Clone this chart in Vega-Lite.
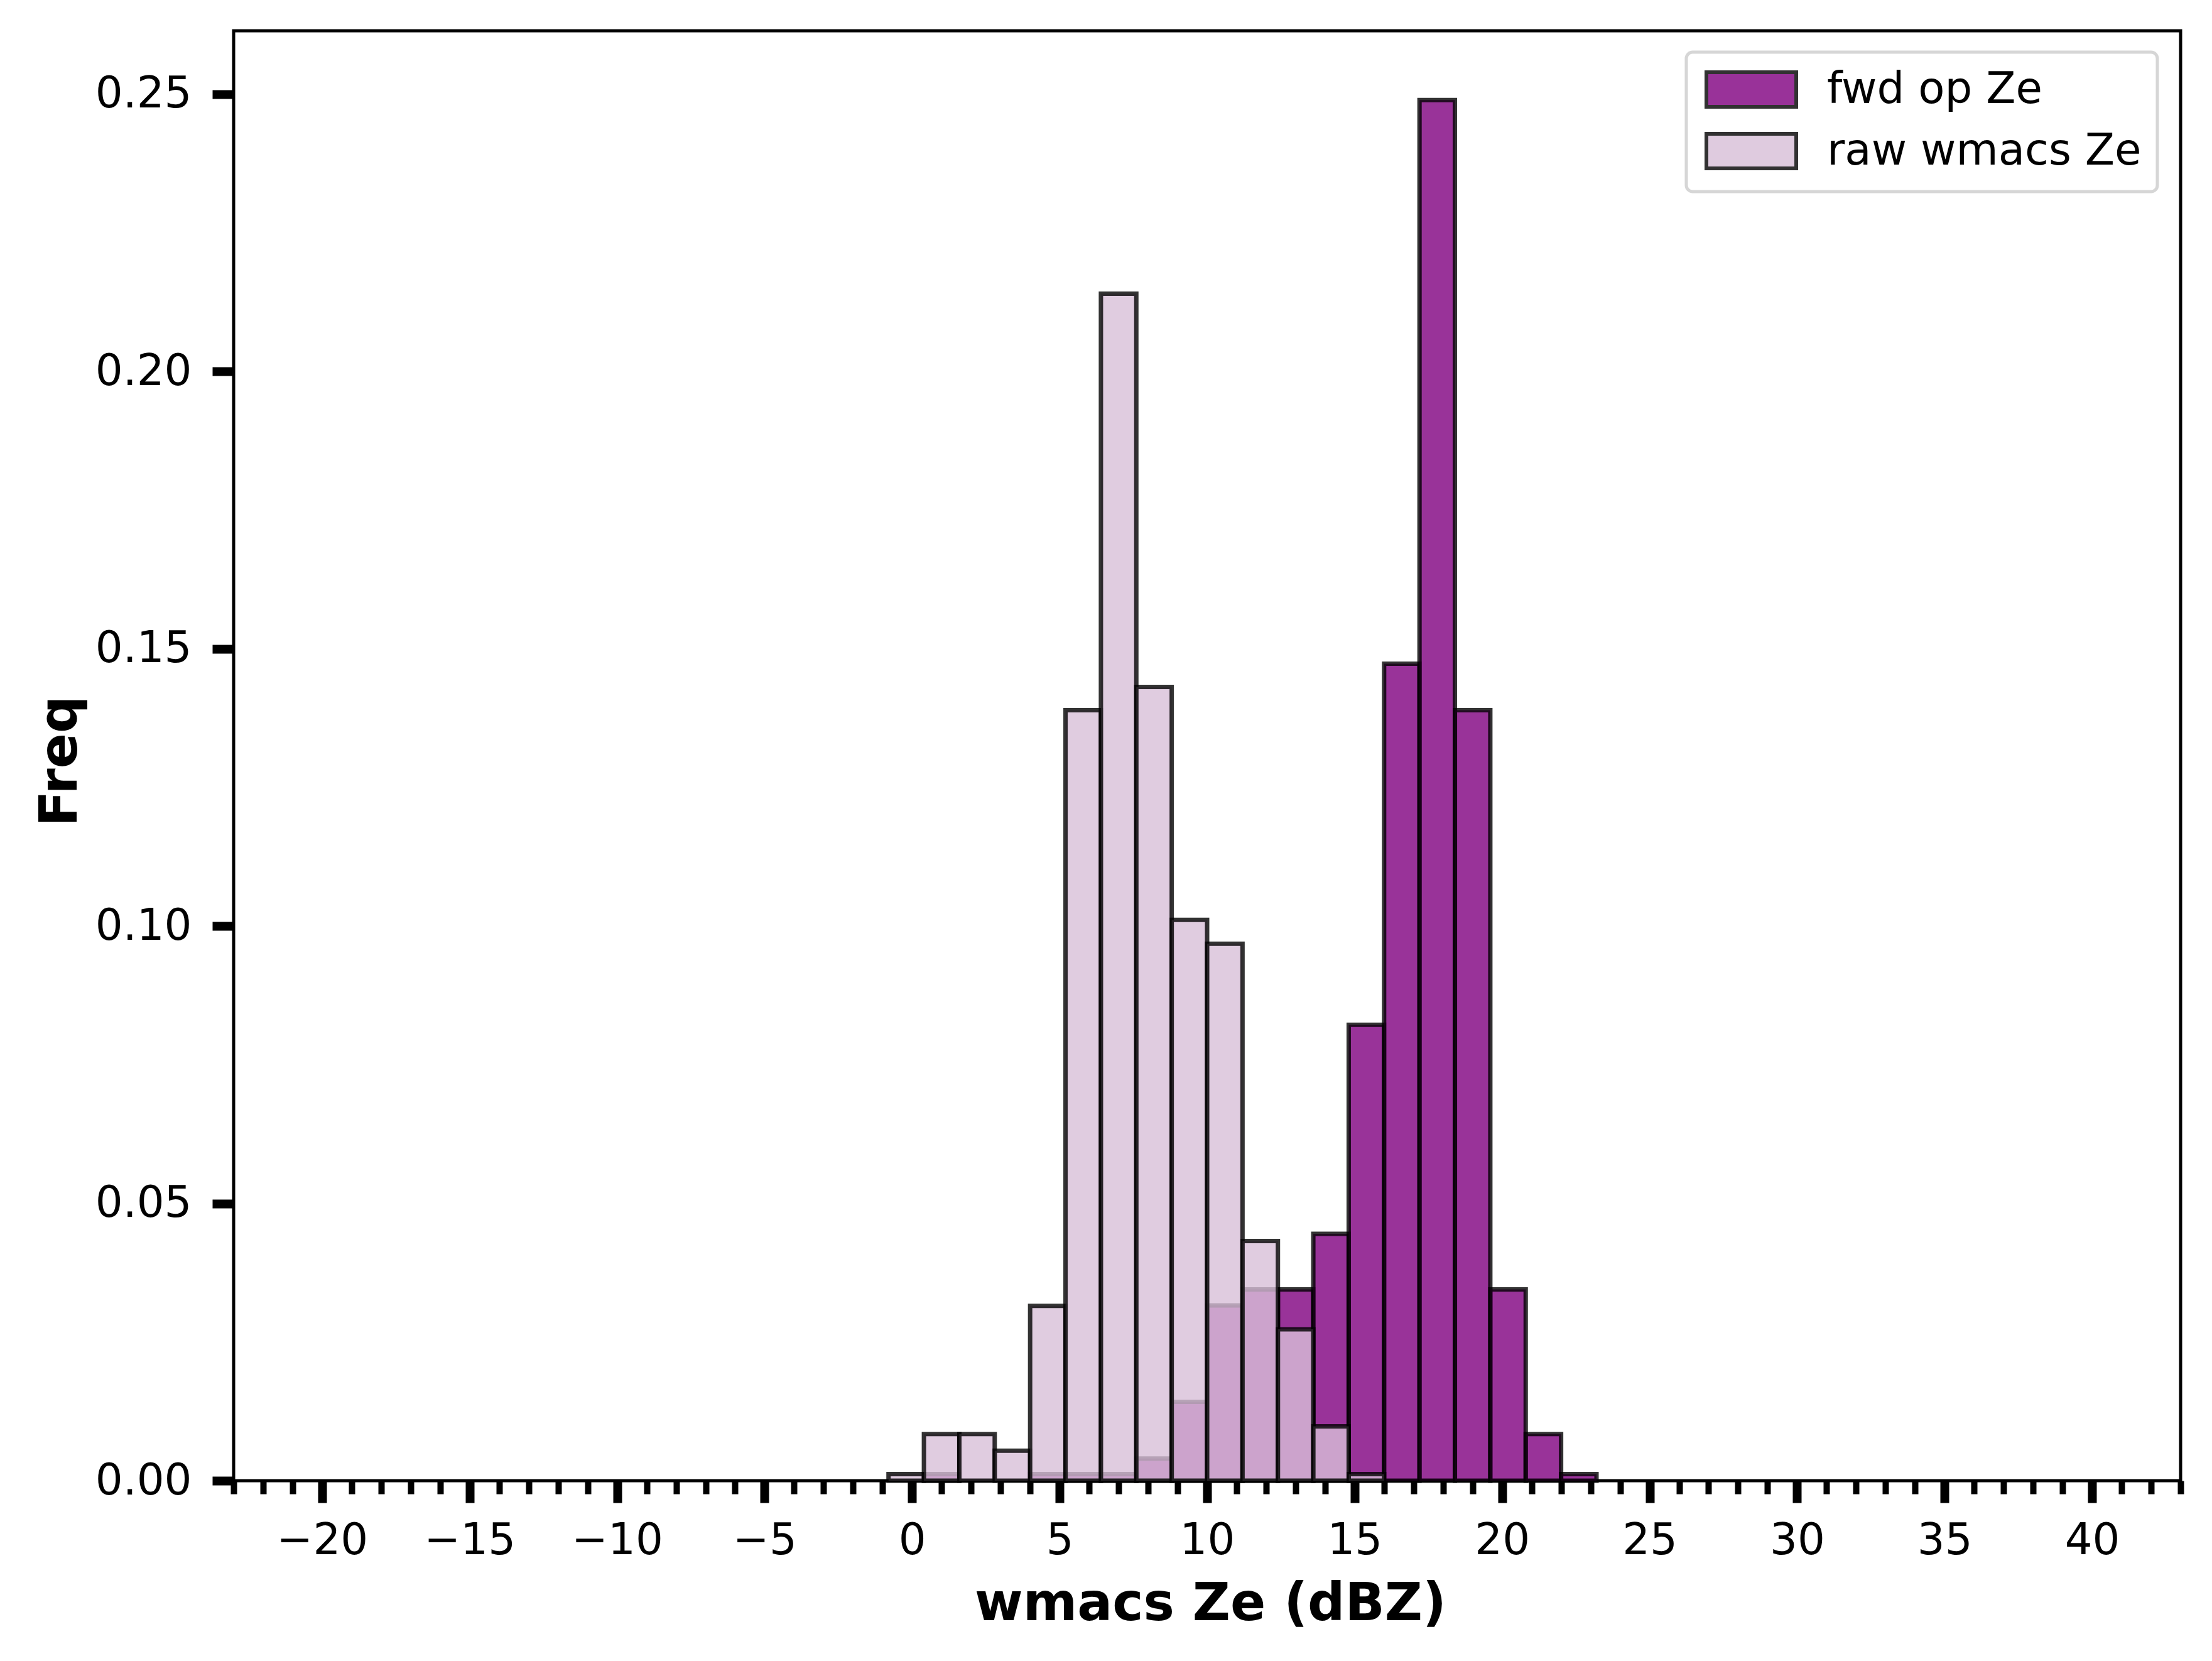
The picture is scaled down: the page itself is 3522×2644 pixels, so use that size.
{
  "$schema": "https://vega.github.io/schema/vega-lite/v6.json",
  "autosize": "none",
  "width": 3100,
  "height": 2308,
  "padding": {"left": 372, "top": 49, "right": 50, "bottom": 287},
  "background": "white",
  "config": {
    "font": "DejaVu Sans",
    "view": {"stroke": "black", "strokeWidth": 5},
    "axis": {"domain": false, "grid": false, "labelFont": "DejaVu Sans", "labelFontSize": 69, "labelColor": "black", "tickColor": "black", "titleFont": "DejaVu Sans", "titleFontSize": 83, "titleFontWeight": "bold", "titleColor": "black"},
    "legend": {"strokeWidth": 5}
  },
  "data": {
    "values": [
      {"series": "fwd op Ze", "bin_start": 0.4, "bin_end": 1.6, "freq": 0.0012},
      {"series": "fwd op Ze", "bin_start": 4.0, "bin_end": 5.2, "freq": 0.0012},
      {"series": "fwd op Ze", "bin_start": 5.2, "bin_end": 6.4, "freq": 0.0012},
      {"series": "fwd op Ze", "bin_start": 6.4, "bin_end": 7.6, "freq": 0.0012},
      {"series": "fwd op Ze", "bin_start": 7.6, "bin_end": 8.8, "freq": 0.0040},
      {"series": "fwd op Ze", "bin_start": 8.8, "bin_end": 10.0, "freq": 0.0142},
      {"series": "fwd op Ze", "bin_start": 10.0, "bin_end": 11.2, "freq": 0.0316},
      {"series": "fwd op Ze", "bin_start": 11.2, "bin_end": 12.4, "freq": 0.0345},
      {"series": "fwd op Ze", "bin_start": 12.4, "bin_end": 13.6, "freq": 0.0345},
      {"series": "fwd op Ze", "bin_start": 13.6, "bin_end": 14.8, "freq": 0.0445},
      {"series": "fwd op Ze", "bin_start": 14.8, "bin_end": 16.0, "freq": 0.0822},
      {"series": "fwd op Ze", "bin_start": 16.0, "bin_end": 17.2, "freq": 0.1473},
      {"series": "fwd op Ze", "bin_start": 17.2, "bin_end": 18.4, "freq": 0.2489},
      {"series": "fwd op Ze", "bin_start": 18.4, "bin_end": 19.6, "freq": 0.1389},
      {"series": "fwd op Ze", "bin_start": 19.6, "bin_end": 20.8, "freq": 0.0345},
      {"series": "fwd op Ze", "bin_start": 20.8, "bin_end": 22.0, "freq": 0.0084},
      {"series": "fwd op Ze", "bin_start": 22.0, "bin_end": 23.2, "freq": 0.0012},
      {"series": "raw wmacs Ze", "bin_start": -0.8, "bin_end": 0.4, "freq": 0.0012},
      {"series": "raw wmacs Ze", "bin_start": 0.4, "bin_end": 1.6, "freq": 0.0084},
      {"series": "raw wmacs Ze", "bin_start": 1.6, "bin_end": 2.8, "freq": 0.0084},
      {"series": "raw wmacs Ze", "bin_start": 2.8, "bin_end": 4.0, "freq": 0.0054},
      {"series": "raw wmacs Ze", "bin_start": 4.0, "bin_end": 5.2, "freq": 0.0315},
      {"series": "raw wmacs Ze", "bin_start": 5.2, "bin_end": 6.4, "freq": 0.1389},
      {"series": "raw wmacs Ze", "bin_start": 6.4, "bin_end": 7.6, "freq": 0.2140},
      {"series": "raw wmacs Ze", "bin_start": 7.6, "bin_end": 8.8, "freq": 0.1431},
      {"series": "raw wmacs Ze", "bin_start": 8.8, "bin_end": 10.0, "freq": 0.1011},
      {"series": "raw wmacs Ze", "bin_start": 10.0, "bin_end": 11.2, "freq": 0.0968},
      {"series": "raw wmacs Ze", "bin_start": 11.2, "bin_end": 12.4, "freq": 0.0432},
      {"series": "raw wmacs Ze", "bin_start": 12.4, "bin_end": 13.6, "freq": 0.0273},
      {"series": "raw wmacs Ze", "bin_start": 13.6, "bin_end": 14.8, "freq": 0.0098},
      {"series": "raw wmacs Ze", "bin_start": 14.8, "bin_end": 16.0, "freq": 0.0012}
    ]
  },
  "resolve": {"axis": {"x": "independent"}},
  "layer": [
    {
      "mark": {"type": "bar", "opacity": 0},
      "encoding": {
        "x": {
          "field": "bin_start", "type": "quantitative",
          "scale": {"domain": [-23, 43], "nice": false, "zero": false},
          "axis": {
            "orient": "bottom",
            "title": null,
            "labels": false,
            "values": [-23,-22,-21,-19,-18,-17,-16,-14,-13,-12,-11,-9,-8,-7,-6,-4,-3,-2,-1,1,2,3,4,6,7,8,9,11,12,13,14,16,17,18,19,21,22,23,24,26,27,28,29,31,32,33,34,36,37,38,39,41,42,43],
            "tickSize": 21,
            "tickWidth": 10
          }
        },
        "x2": {"field": "bin_end"},
        "y": {"field": "freq", "type": "quantitative", "stack": null, "scale": {"domain": [0, 0.2614], "nice": false}},
        "y2": {"datum": 0}
      }
    },
    {
      "mark": {"type": "bar", "stroke": "black", "strokeWidth": 7, "strokeOpacity": 0.8, "fillOpacity": 0.8},
      "encoding": {
        "x": {
          "field": "bin_start", "type": "quantitative",
          "scale": {"domain": [-23, 43], "nice": false, "zero": false},
          "axis": {
            "orient": "bottom",
            "title": "wmacs Ze (dBZ)",
            "values": [-20,-15,-10,-5,0,5,10,15,20,25,30,35,40],
            "format": "d",
            "tickSize": 35,
            "tickWidth": 14,
            "labelPadding": 26,
            "labelBaseline": "top",
            "labelFlush": false,
            "labelOverlap": false,
            "titleX": 1555,
            "titleY": 221,
            "titleBaseline": "alphabetic",
            "titleAlign": "center"
          }
        },
        "x2": {"field": "bin_end"},
        "y": {
          "field": "freq", "type": "quantitative", "stack": null,
          "scale": {"domain": [0, 0.2614], "nice": false},
          "axis": {
            "title": "Freq",
            "values": [0, 0.05, 0.1, 0.15, 0.2, 0.25],
            "format": ".2f",
            "tickSize": 34,
            "tickWidth": 14,
            "labelPadding": 33,
            "labelFlush": false,
            "labelOverlap": false,
            "titleX": -251,
            "titleY": 1162,
            "titleAngle": 270,
            "titleBaseline": "alphabetic",
            "titleAlign": "center"
          }
        },
        "y2": {"datum": 0},
        "color": {
          "field": "series", "type": "nominal",
          "scale": {"domain": ["fwd op Ze", "raw wmacs Ze"], "range": ["#800080", "#d8bfd8"]},
          "legend": {
            "title": null,
            "orient": "none",
            "legendX": 2313,
            "legendY": 34,
            "padding": 25,
            "fillColor": "white",
            "strokeColor": "#d6d6d6",
            "cornerRadius": 10,
            "labelFont": "DejaVu Sans",
            "labelFontSize": 69,
            "labelColor": "black",
            "labelLimit": 1000,
            "labelOffset": 86,
            "rowPadding": 19,
            "symbolType": "M-2.6,-1H2.6V1H-2.6Z",
            "symbolSize": 3025,
            "symbolOffset": 44,
            "symbolStrokeColor": "black",
            "symbolStrokeWidth": 6,
            "symbolOpacity": 0.8
          }
        }
      }
    }
  ]
}
